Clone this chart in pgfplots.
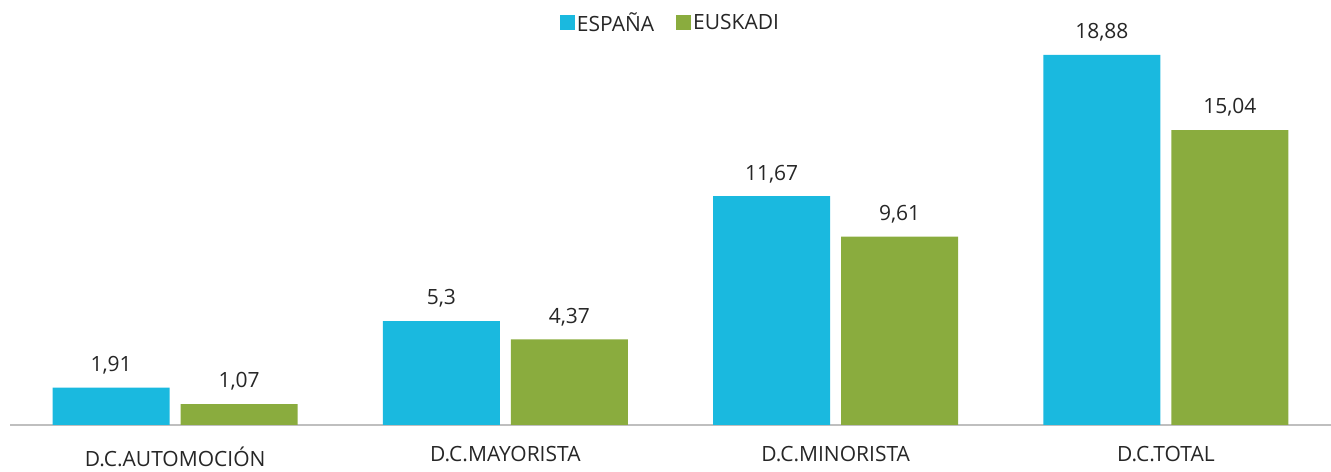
\documentclass[border=0pt]{standalone}
\usepackage{pgfplots}
\pgfplotsset{compat=1.18}
\usepackage{fontspec}
\setmainfont{Open Sans}
\definecolor{cesp}{HTML}{1AB9DF}
\definecolor{ceus}{HTML}{8AAC3E}
\definecolor{axl}{HTML}{BFBFBF}
\begin{document}
\begin{tikzpicture}
\useasboundingbox (0,0) rectangle (1331bp,472bp);
\begin{axis}[
  at={(10bp,47bp)}, anchor=south west,
  scale only axis, width=1321bp, height=425bp,
  xmin=-0.5, xmax=3.5, ymin=0, ymax=21.68,
  ybar=11bp, bar width=117bp,
  axis x line=bottom, axis y line=none,
  x axis line style={draw=axl, line width=1.2bp, -},
  xtick={0,1,2,3}, xticklabels={D.C.AUTOMOCIÓN,D.C.MAYORISTA,D.C.MINORISTA,D.C.TOTAL},
  major tick length=0pt,
  xticklabel style={font=\fontsize{21bp}{24bp}\selectfont, text=black!85, yshift=-18bp},
  nodes near coords={\pgfmathprintnumber[use comma,fixed,precision=2,assume math mode=true]{\pgfplotspointmeta}},
  every node near coord/.append style={font=\fontsize{21bp}{24bp}\selectfont, text=black!85, yshift=10bp},
  legend columns=2,
  legend style={at={(0.5,0.946)}, anchor=center, draw=none, fill=none,
    font=\fontsize{21bp}{24bp}\selectfont, text=black!85,
    /tikz/every even column/.append style={column sep=20bp}},
  legend image code/.code={\fill[#1] (-2bp,-7.5bp) rectangle (13bp,7.5bp);},
]
\addplot[fill=cesp, draw=none] coordinates {(0,1.91) (1,5.3) (2,11.67) (3,18.88)};
\addplot[fill=ceus, draw=none] coordinates {(0,1.07) (1,4.37) (2,9.61) (3,15.04)};
\legend{ESPAÑA,EUSKADI}
\end{axis}
\end{tikzpicture}
\end{document}
